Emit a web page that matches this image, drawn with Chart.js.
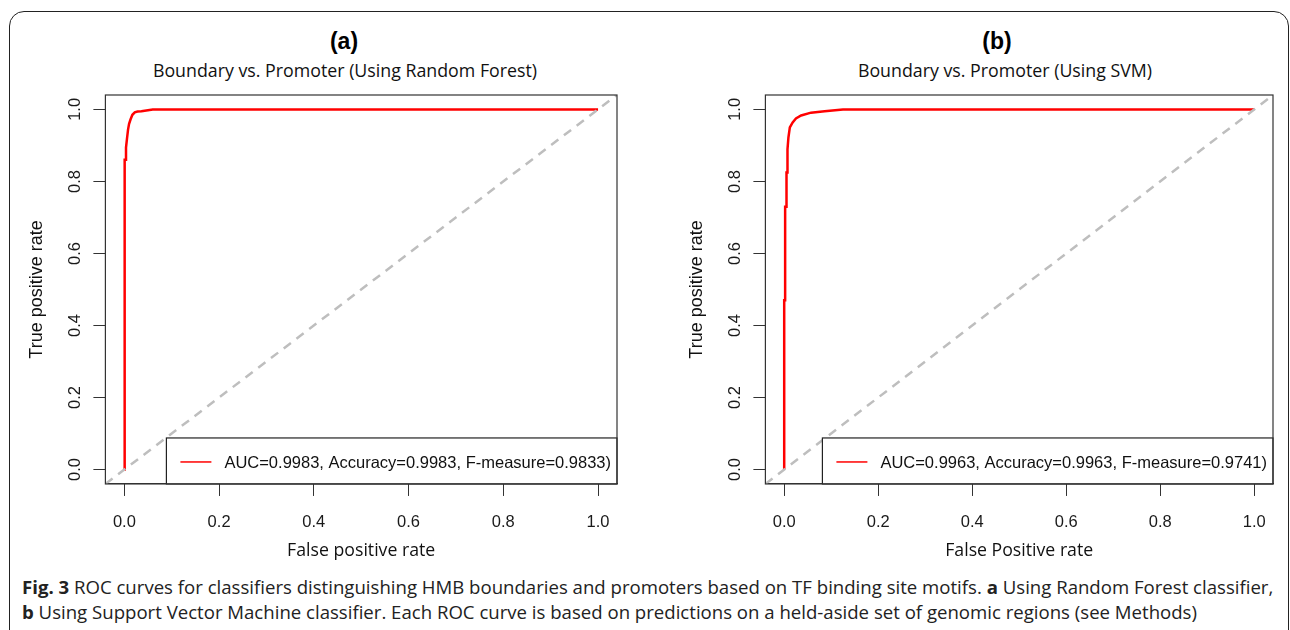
<!DOCTYPE html>
<html>
<head>
<meta charset="utf-8">
<script src="https://cdn.jsdelivr.net/npm/chart.js@4.4.1/dist/chart.umd.min.js"></script>
<style>
  html, body { margin: 0; padding: 0; background: #fff; width: 1290px; height: 630px; overflow: hidden; }
  #frame { position: absolute; left: 9px; top: 11px; width: 1280px; height: 700px; box-sizing: border-box;
           border: 1.5px solid #222; border-radius: 15px; }
  .panel { position: absolute; top: 0; }
  .ttl { position: absolute; width: 500px; text-align: center; font-family: "Liberation Sans", Arial, sans-serif;
         font-weight: bold; font-size: 23px; line-height: 26px; color: #000; }
  .sub { position: absolute; width: 500px; text-align: center; font-family: "Open Sans", sans-serif;
         font-size: 17.8px; line-height: 20px; color: #111; }
  #caption { position: absolute; left: 22px; top: 574px; font-family: "Open Sans", sans-serif; font-size: 18.6px;
             line-height: 25px; color: #222; white-space: nowrap; }
  #caption b { font-weight: bold; }
</style>
</head>
<body>
<div id="frame"></div>

<div class="ttl" style="left:94px; top:28px;">(a)</div>
<div class="sub" style="left:95px; top:60px;">Boundary vs. Promoter (Using Random Forest)</div>
<div class="ttl" style="left:747px; top:28px;">(b)</div>
<div class="sub" style="left:755px; top:60px;">Boundary vs. Promoter (Using SVM)</div>

<div class="panel" style="left:0px;"><canvas id="rocRF" width="660" height="562"></canvas></div>
<div class="panel" style="left:660px;"><canvas id="rocSVM" width="630" height="562"></canvas></div>

<div id="caption"><b>Fig. 3</b> ROC curves for classifiers distinguishing HMB boundaries and promoters based on TF binding site motifs. <b>a</b> Using Random Forest classifier,<br><b>b</b> Using Support Vector Machine classifier. Each ROC curve is based on predictions on a held-aside set of genomic regions (see Methods)</div>

<script>
// axis ticks shared by both panels
var tickValues = [0, 0.2, 0.4, 0.6, 0.8, 1.0];
var axisMin = -0.04, axisMax = 1.04;

// ROC curve, random forest
var rfFpr = [0, 0, 0.001, 0.001, 0.0035, 0.0035, 0.0057, 0.0078, 0.010, 0.013, 0.017, 0.022, 0.028, 0.036, 0.06, 1.0];
var rfTpr = [0, 0.735, 0.735, 0.86, 0.86, 0.894, 0.92, 0.944, 0.96, 0.972, 0.985, 0.992, 0.994, 0.995, 1.0, 1.0];

// ROC curve, SVM
var svmFpr = [0, 0, 0.002, 0.002, 0.0049, 0.0049, 0.007, 0.007, 0.009, 0.012, 0.018, 0.025, 0.036, 0.057, 0.086, 0.125, 1.0];
var svmTpr = [0, 0.47, 0.47, 0.73, 0.73, 0.825, 0.825, 0.889, 0.922, 0.95, 0.964, 0.975, 0.983, 0.991, 0.995, 1.0, 1.0];

// chance diagonal (abline 0,1) across the whole plot region
var chanceXY = [axisMin, axisMax];

var rfLabel = "AUC=0.9983, Accuracy=0.9983, F-measure=0.9833)";
var svmLabel = "AUC=0.9963, Accuracy=0.9963, F-measure=0.9741)";

Chart.defaults.font.family = '"Liberation Sans", Arial, sans-serif';
Chart.defaults.color = '#1a1a1a';

function toPoints(xs, ys) {
    return xs.map(function (x, i) { return {x: x, y: ys[i]}; });
}

// R style box around the plot and a bottom-right legend with a frame
var boxLegend = {
    id: 'boxLegend',
    afterDatasetsDraw: function (chart) {
        var ctx = chart.ctx, a = chart.chartArea;
        var roc = chart.data.datasets[1];
        ctx.save();
        ctx.font = '16.5px "Liberation Sans", Arial, sans-serif';
        var tw = ctx.measureText(roc.label).width;
        var w = tw + 64, h = 46;
        var x0 = a.right - w, y0 = a.bottom - h;
        ctx.fillStyle = '#fff';
        ctx.fillRect(x0, y0, w, h);
        ctx.strokeStyle = '#222';
        ctx.lineWidth = 1.2;
        ctx.strokeRect(x0, y0, w, h);
        ctx.strokeStyle = roc.borderColor;
        ctx.lineWidth = 1.5;
        ctx.beginPath();
        ctx.moveTo(x0 + 14, y0 + 24);
        ctx.lineTo(x0 + 45, y0 + 24);
        ctx.stroke();
        ctx.fillStyle = '#111';
        ctx.textBaseline = 'middle';
        ctx.fillText(roc.label, x0 + 58, y0 + 25);
        ctx.strokeStyle = '#333';
        ctx.lineWidth = 1.2;
        ctx.strokeRect(a.left, a.top, a.right - a.left, a.bottom - a.top);
        ctx.restore();
    }
};

function rocChart(id, fpr, tpr, label, xTitle, padRight) {
    var ctx = document.getElementById(id).getContext('2d');
    return new Chart(ctx, {
        type: 'scatter',
        data: {
            datasets: [
                {
                    label: 'chance',
                    data: toPoints(chanceXY, chanceXY),
                    showLine: true,
                    borderColor: '#bebebe',
                    borderWidth: 2.5,
                    borderDash: [9, 7],
                    pointRadius: 0
                },
                {
                    label: label,
                    data: toPoints(fpr, tpr),
                    showLine: true,
                    borderColor: '#ff0000',
                    borderWidth: 2.5,
                    pointRadius: 0,
                    tension: 0
                }
            ]
        },
        options: {
            responsive: false,
            animation: false,
            layout: {padding: {left: 26, top: 95, right: padRight, bottom: 0}},
            plugins: {legend: {display: false}, tooltip: {enabled: false}},
            scales: {
                x: {
                    type: 'linear', min: axisMin, max: axisMax,
                    afterBuildTicks: function (s) { s.ticks = tickValues.map(function (v) { return {value: v}; }); },
                    ticks: {
                        callback: function (v) { return v.toFixed(1); },
                        font: {size: 16.5}, padding: 17, maxRotation: 0, autoSkip: false
                    },
                    grid: {drawOnChartArea: false, drawTicks: true, tickLength: 12, color: '#333'},
                    border: {display: true, color: '#333'},
                    title: {display: true, text: xTitle, font: {family: '"Open Sans", sans-serif', size: 17.7},
                            color: '#111', padding: {top: -9, bottom: 0}}
                },
                y: {
                    type: 'linear', min: axisMin, max: axisMax,
                    afterBuildTicks: function (s) { s.ticks = tickValues.map(function (v) { return {value: v}; }); },
                    ticks: {
                        callback: function (v) { return v.toFixed(1); },
                        font: {size: 16.5}, padding: 6.5, minRotation: 90, maxRotation: 90,
                        crossAlign: 'center', autoSkip: false
                    },
                    grid: {drawOnChartArea: false, drawTicks: true, tickLength: 12, color: '#333'},
                    border: {display: true, color: '#333'},
                    title: {display: true, text: 'True positive rate', font: {size: 18},
                            color: '#111', padding: {top: 0, bottom: 13}}
                }
            }
        },
        plugins: [boxLegend]
    });
}

rocChart('rocRF', rfFpr, rfTpr, rfLabel, 'False positive rate', 43);
rocChart('rocSVM', svmFpr, svmTpr, svmLabel, 'False Positive rate', 17);
</script>
</body>
</html>
